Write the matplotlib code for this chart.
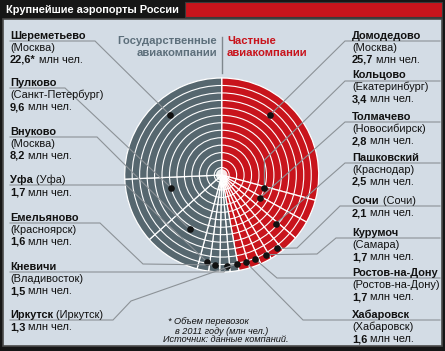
import numpy as np
import matplotlib
matplotlib.use('Agg')
import matplotlib.pyplot as plt
from matplotlib.patches import Rectangle, Circle

# ---------------- data ----------------
gray_names = ['Шереметьево', 'Пулково', 'Внуково', 'Уфа', 'Емельяново', 'Кневичи', 'Иркутск']
gray_cities = ['(Москва)', '(Санкт-Петербург)', '(Москва)', '(Уфа)', '(Красноярск)', '(Владивосток)', '(Иркутск)']
gray_values = [22.6, 9.6, 8.2, 1.7, 1.6, 1.5, 1.3]
gray_marks = ['*', '', '', '', '', '', '']

red_names = ['Домодедово', 'Кольцово', 'Толмачево', 'Пашковский', 'Сочи', 'Курумоч', 'Ростов-на-Дону', 'Хабаровск']
red_cities = ['(Москва)', '(Екатеринбург)', '(Новосибирск)', '(Краснодар)', '(Сочи)', '(Самара)', '(Ростов-на-Дону)', '(Хабаровск)']
red_values = [25.7, 3.4, 2.8, 2.5, 2.1, 1.7, 1.7, 1.6]
red_marks = [''] * 8

title = 'Крупнейшие аэропорты России'
head_gray = 'Государственные\nавиакомпании'
head_red = 'Частные\nавиакомпании'
unit = ' млн чел.'
footnote = ['* Объем перевозок', 'в 2011 году (млн чел.)', 'Источник: данные компаний.']

# ---------------- style / layout ----------------
W, H = 445, 351
FONT = ['Liberation Sans', 'DejaVu Sans']
plt.rcParams['font.family'] = FONT
GRAY = '#56676f'
RED = '#c8141c'
BG = '#d3dce5'
LINE = '#8c9297'
FS = 7.9

cx, cy, R = 221.7, 175.0, 97.0
n_rings = 13

# label layout (pixel coords, y down)
gray_label_y = [36, 83, 132, 180, 218, 267, 315]
gray_inline = [False, False, False, True, False, False, True]
red_label_y = [36, 75, 117, 158, 201, 233, 273, 315]
red_inline = [False, False, False, False, True, False, False, False]
LX, RX = 10, 352

# dot placement inside each wedge (fraction of wedge angle, fraction of radius)
gray_dot_af = [0.44, 0.29, 0.53, 0.76, 0.52, 0.77, 0.87]
gray_dot_rf = [0.81, 0.54, 0.65, 0.91, 0.93, 0.94, 0.93]
red_dot_af = [0.37, 0.12, 0.14, 0.15, 0.24, 0.22, 0.32, 0.21]
red_dot_rf = [0.80, 0.46, 0.46, 0.75, 0.95, 0.94, 0.93, 0.93]

# leader line paths: list of points before reaching the dot
gray_paths = [
    [(10, 41), (95, 41)],
    [(10, 88), (65, 88)],
    [(10, 137), (97, 137)],
    [(10, 185), (126, 185)],
    [(10, 223), (100, 223), (143, 264)],
    [(10, 272), (224, 272)],
    [(10, 320), (113, 320), (131, 301)],
]
red_paths = [
    [(440, 41), (345, 41)],
    [(440, 81), (345, 81), ('dx', 160)],
    [(440, 122), (345, 122)],
    [(440, 163), (345, 163)],
    [(440, 206), (340, 206), (297, 248)],
    [(440, 238), (336, 238), (317, 254)],
    [(440, 278), (277, 278)],
    [(440, 320), (303, 320)],
]

fig = plt.figure(figsize=(W / 100, H / 100), dpi=100)
fig.patch.set_facecolor('#161616')

bg = fig.add_axes([0, 0, 1, 1], zorder=0)
bg.set_xlim(0, W); bg.set_ylim(H, 0); bg.axis('off')
bg.add_patch(Rectangle((3, 19), 439, 327, fc=BG, ec='#4a4a4a', lw=1.2))
bg.add_patch(Rectangle((185, 2), 257, 15, fc=RED, ec='#3a3a3a', lw=0.8))
bg.text(6, 10, title, color='white', fontsize=7.9, fontweight='bold', va='center', ha='left')

# ---------------- pie ----------------
pad = 1.04
pax = fig.add_axes([(cx - R * pad) / W, 1 - (cy + R * pad) / H, 2 * R * pad / W, 2 * R * pad / H], zorder=1)
values = red_values + gray_values[::-1]
colors = [RED] * len(red_values) + [GRAY] * len(gray_values)
pax.pie(values, colors=colors, startangle=90, counterclock=False, radius=1,
        wedgeprops=dict(edgecolor='white', linewidth=0.9))
for k in range(1, n_rings):
    pax.add_patch(Circle((0, 0), k / n_rings, fill=False, ec='white', lw=0.8))
pax.add_patch(Circle((0, 0), 0.06, fc='white', ec='none', alpha=0.9))
pax.set_xlim(-pad, pad); pax.set_ylim(-pad, pad); pax.set_aspect('equal'); pax.axis('off')

total = sum(values)

ov = fig.add_axes([0, 0, 1, 1], zorder=2)
ov.set_xlim(0, W); ov.set_ylim(H, 0); ov.axis('off')
ov.patch.set_alpha(0)


def to_ov(x, y):
    d = pax.transData.transform((x, y))
    return ov.transData.inverted().transform(d)


def dot_pos(start, span, af, rf, sign):
    a = np.deg2rad(start + sign * span * af)
    return to_ov(rf * np.cos(a), rf * np.sin(a))


def fmt(v):
    return ('%.1f' % v).replace('.', ',')


def label(x, y, name, city, val, mark, inline):
    t = ov.text(x, y, name, fontsize=FS, fontweight='bold', va='center', ha='left', color='#111')
    if inline:
        ov.annotate(' ' + city, xy=(1, 0), xycoords=t, va='bottom', ha='left', fontsize=FS, color='#111')
        vy = y + 12.5
    else:
        ov.text(x, y + 12, city, fontsize=FS, va='center', ha='left', color='#111')
        vy = y + 24
    tv = ov.text(x, vy, fmt(val) + mark, fontsize=FS, fontweight='bold', va='center', ha='left', color='#111')
    ov.annotate(unit, xy=(1, 0), xycoords=tv, va='bottom', ha='left', fontsize=FS, color='#111')


# gray side
cum = 0.0
for i, v in enumerate(gray_values):
    span = 360 * v / total
    start = 90 + 360 * cum / total
    cum += v
    dx, dy = dot_pos(start, span, gray_dot_af[i], gray_dot_rf[i], +1)
    pts = gray_paths[i] + [(dx, dy)]
    xs = [p[0] for p in pts]; ys = [p[1] for p in pts]
    ov.plot(xs, ys, color=LINE, lw=0.8, solid_joinstyle='miter')
    ov.plot([dx], [dy], 'o', color='#111', ms=4.8, mec='none')
    label(LX, gray_label_y[i], gray_names[i], gray_cities[i], v, gray_marks[i], gray_inline[i])

# red side
cum = 0.0
for i, v in enumerate(red_values):
    span = 360 * v / total
    start = 90 - 360 * cum / total
    cum += v
    dx, dy = dot_pos(start, span, red_dot_af[i], red_dot_rf[i], -1)
    pts = [(dx if p[0] == 'dx' else p[0], p[1]) for p in red_paths[i]] + [(dx, dy)]
    xs = [p[0] for p in pts]; ys = [p[1] for p in pts]
    ov.plot(xs, ys, color=LINE, lw=0.8, solid_joinstyle='miter')
    ov.plot([dx], [dy], 'o', color='#111', ms=4.8, mec='none')
    label(RX, red_label_y[i], red_names[i], red_cities[i], v, red_marks[i], red_inline[i])

# headers
ov.text(217, 47.5, head_gray, color='#5d6f7b', fontsize=8.1, fontweight='bold', ha='right', va='center', linespacing=1.25)
ov.text(227, 47.5, head_red, color=RED, fontsize=8.1, fontweight='bold', ha='left', va='center', linespacing=1.25)
ov.plot([222, 222], [37, 73], color='#7f878d', lw=1.0)

# footnote
ov.text(168, 322, footnote[0], fontsize=6.6, style='italic', color='#111', va='center', ha='left')
ov.text(175, 331, footnote[1], fontsize=6.6, style='italic', color='#111', va='center', ha='left')
ov.text(163, 340, footnote[2], fontsize=6.6, style='italic', color='#111', va='center', ha='left')

fig.savefig('out.png', dpi=100, facecolor=fig.get_facecolor())
